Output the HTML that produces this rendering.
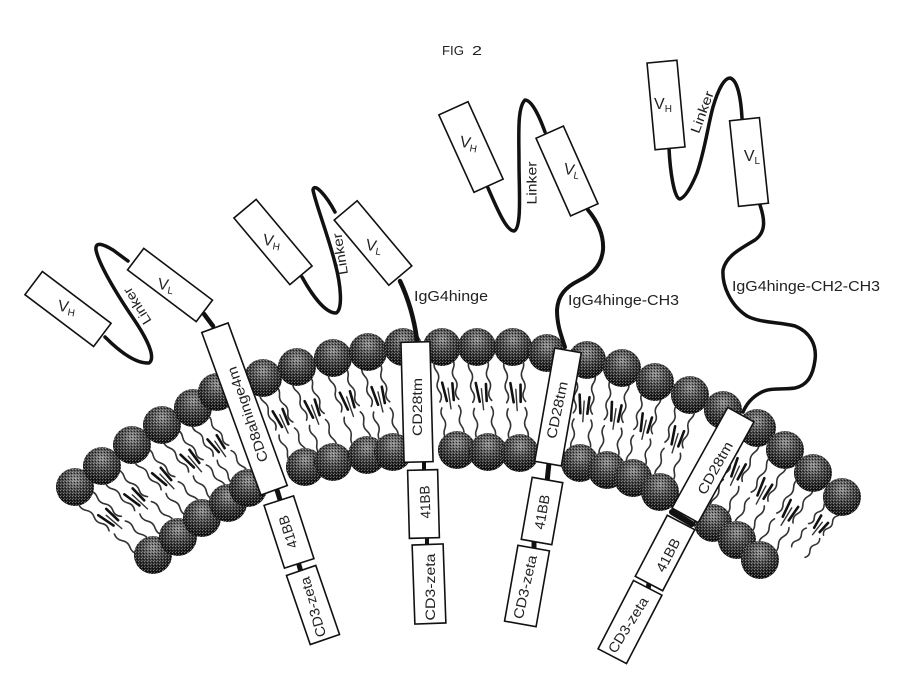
<!DOCTYPE html>
<html>
<head>
<meta charset="utf-8">
<style>
html,body{margin:0;padding:0;background:#fff;width:913px;height:692px;overflow:hidden}
svg{display:block}
text{font-family:"Liberation Sans",sans-serif;fill:#222}
.b{fill:#fff;stroke:#111;stroke-width:1.6}
.l{fill:none;stroke:#111;stroke-linecap:round;stroke-linejoin:round}
</style>
</head>
<body>
<svg width="913" height="692" viewBox="0 0 913 692" xmlns="http://www.w3.org/2000/svg">
<defs>
<radialGradient id="g" cx="50%" cy="30%" r="72%">
<stop offset="0" stop-color="#8e8e8e"/>
<stop offset=".4" stop-color="#4a4a4a"/>
<stop offset=".75" stop-color="#222"/>
<stop offset="1" stop-color="#0c0c0c"/>
</radialGradient>
<pattern id="d" width="3" height="3" patternUnits="userSpaceOnUse">
<rect x="0" y="0" width="1" height="1" fill="#fff" opacity=".4"/>
<rect x="2" y="1" width="1" height="1" fill="#000" opacity=".7"/>
<rect x="1" y="2" width="1" height="1" fill="#fff" opacity=".25"/>
</pattern>
<g id="h"><circle r="19" fill="url(#g)"/><circle r="19" fill="url(#d)"/></g>
<g id="t" fill="none" stroke="#333" stroke-linecap="round">
<path stroke-width="1.6" d="M-9 12q-3 5 0 10t0 10t0 10t-1 10M8 12q3 5 0 10t0 10t0 10t1 10"/>
<path stroke-width="1.6" d="M-9 88q-3-5 0-10t0-10t0-10M8 88q3-5 0-10t0-10t0-10"/>
<path stroke="#111" stroke-width="2.6" d="M-5 34l2 18M5 36l-1 16"/>
<path stroke="#333" stroke-width="1.4" d="M0 40l0 20"/>
</g>
</defs>

<!-- tails -->
<use href="#t" transform="translate(75 489) rotate(-49.8) scale(1 1.02)"/>
<use href="#t" transform="translate(102 467) rotate(-47.4) scale(1 1.03)"/>
<use href="#t" transform="translate(132 445) rotate(-43.8) scale(1 1.01)"/>
<use href="#t" transform="translate(162 425) rotate(-40.2) scale(1 1.02)"/>
<use href="#t" transform="translate(193 410) rotate(-35) scale(1 .95)"/>
<use href="#t" transform="translate(263 378) rotate(-24.5) scale(1 1.01)"/>
<use href="#t" transform="translate(297 367) rotate(-20.8) scale(1 1.02)"/>
<use href="#t" transform="translate(333 358) rotate(-19.3) scale(1 1.03)"/>
<use href="#t" transform="translate(368 352) rotate(-14) scale(1 1.03)"/>
<use href="#t" transform="translate(442 347) rotate(-8.3) scale(1 1.04)"/>
<use href="#t" transform="translate(477 347) rotate(-6) scale(1 1.05)"/>
<use href="#t" transform="translate(513 347) rotate(-3.8) scale(1 1.06)"/>
<use href="#t" transform="translate(587 360) rotate(3.9) scale(1 1.03)"/>
<use href="#t" transform="translate(622 368) rotate(8.4) scale(1 1.03)"/>
<use href="#t" transform="translate(655 382) rotate(12.9) scale(1 .98)"/>
<use href="#t" transform="translate(690 395) rotate(17.2) scale(1 1.01)"/>
<use href="#t" transform="translate(757 428) rotate(24.8) scale(1 1.05)"/>
<use href="#t" transform="translate(785 450) rotate(28) scale(1 1.02)"/>
<use href="#t" transform="translate(813 473) rotate(31.4) scale(1 1.02)"/>
<use href="#t" transform="translate(842 497) rotate(38) scale(1 .8)"/>

<!-- upper heads -->
<use href="#h" x="75" y="487"/>
<use href="#h" x="102" y="466"/>
<use href="#h" x="132" y="445"/>
<use href="#h" x="162" y="425"/>
<use href="#h" x="193" y="408"/>
<use href="#h" x="217" y="392"/>
<use href="#h" x="263" y="378"/>
<use href="#h" x="297" y="367"/>
<use href="#h" x="333" y="358"/>
<use href="#h" x="368" y="352"/>
<use href="#h" x="403" y="347"/>
<use href="#h" x="442" y="347"/>
<use href="#h" x="477" y="347"/>
<use href="#h" x="513" y="347"/>
<use href="#h" x="547" y="353"/>
<use href="#h" x="587" y="360"/>
<use href="#h" x="622" y="368"/>
<use href="#h" x="655" y="382"/>
<use href="#h" x="690" y="395"/>
<use href="#h" x="723" y="410"/>
<use href="#h" x="757" y="428"/>
<use href="#h" x="785" y="450"/>
<use href="#h" x="813" y="473"/>
<use href="#h" x="842" y="497"/>

<!-- lower heads -->
<use href="#h" x="153" y="555"/>
<use href="#h" x="178" y="537"/>
<use href="#h" x="202" y="518"/>
<use href="#h" x="228" y="503"/>
<use href="#h" x="248" y="488"/>
<use href="#h" x="305" y="467"/>
<use href="#h" x="333" y="462"/>
<use href="#h" x="367" y="455"/>
<use href="#h" x="393" y="452"/>
<use href="#h" x="457" y="450"/>
<use href="#h" x="488" y="452"/>
<use href="#h" x="520" y="453"/>
<use href="#h" x="580" y="463"/>
<use href="#h" x="607" y="470"/>
<use href="#h" x="633" y="478"/>
<use href="#h" x="660" y="492"/>
<use href="#h" x="713" y="523"/>
<use href="#h" x="737" y="540"/>
<use href="#h" x="760" y="560"/>

<!-- linkers and hinges -->
<path class="l" stroke-width="3.5" d="M105 337C118 350 135 364 149 363C156 358 148 340 133 318C118 296 99 265 96 250C95 241 103 244 113 250C120 255 125 259 128 261"/>
<path class="l" stroke-width="4.5" d="M204 314L213 326"/>
<path class="l" stroke-width="3.5" d="M302 277C312 295 325 313 336 313C343 310 341 285 335 263C328 235 316 205 313 190C314 182 326 195 335 212"/>
<path class="l" stroke-width="4.5" d="M400 281C408 298 414 318 417 340"/>
<path class="l" stroke-width="3.5" d="M488 188C496 206 506 231 514 231C522 228 519 190 519 163C519 135 517 108 525 100C532 100 540 118 545 132"/>
<path class="l" stroke-width="4" d="M588 210C598 222 604 235 603 250C601 268 590 275 578 281C566 287 558 295 557 310C557 325 561 335 565 347"/>
<path class="l" stroke-width="3.5" d="M669 148C670 170 674 199 680 199C686 197 692 185 697 173C705 150 708 125 713 107C718 90 724 78 730 78C738 80 741 100 742 118"/>
<path class="l" stroke-width="3.5" d="M760 205C765 220 766 232 755 240C740 249 726 256 723 270C722 285 730 305 747 316C760 323 780 322 795 326C810 332 817 345 815 360C813 375 808 385 795 388C783 390 770 387 760 393C751 398 746 405 743 412"/>

<!-- short connectors -->
<path class="l" stroke-width="5" d="M277 490L281 503"/>
<path class="l" stroke-width="5" d="M299 565L301 572"/>
<path class="l" stroke-width="4" d="M424 460V472"/>
<path class="l" stroke-width="4" d="M427 538V545"/>
<path class="l" stroke-width="5" d="M549 463L547 482"/>
<path class="l" stroke-width="5" d="M534 542L534 550"/>
<path class="l" stroke-width="6" d="M672 512L692 524"/>
<path class="l" stroke-width="5" d="M649 583L648 590"/>

<!-- antibody rectangles -->
<rect class="b" x="-14.5" y="-43" width="29" height="86" transform="translate(68 309) rotate(-53)"/>
<rect class="b" x="-13.5" y="-43" width="27" height="86" transform="translate(170 285) rotate(-53)"/>
<rect class="b" x="-14.5" y="-43.5" width="29" height="87" transform="translate(273 242) rotate(-40)"/>
<rect class="b" x="-15" y="-42.5" width="30" height="85" transform="translate(373 243) rotate(-40)"/>
<rect class="b" x="-16" y="-42.5" width="32" height="85" transform="translate(471 147) rotate(-24.4)"/>
<rect class="b" x="-15" y="-42.5" width="30" height="85" transform="translate(567 171) rotate(-24)"/>
<rect class="b" x="-15" y="-43.5" width="30" height="87" transform="translate(666 105) rotate(-5.3)"/>
<rect class="b" x="-15" y="-43" width="30" height="86" transform="translate(749 162) rotate(-6)"/>

<!-- transmembrane boxes -->
<rect class="b" x="-14" y="-86.5" width="28" height="173" transform="translate(244.5 409) rotate(-20)"/>
<rect class="b" x="-14.5" y="-60" width="29" height="120" transform="translate(417 402) rotate(-1.5)"/>
<rect class="b" x="-13.5" y="-57.5" width="27" height="115" transform="translate(558 407) rotate(10)"/>
<rect class="b" x="-15" y="-57.5" width="30" height="115" transform="translate(713 465) rotate(29)"/>

<!-- 41BB boxes -->
<rect class="b" x="-15.5" y="-33" width="31" height="66" transform="translate(289 532) rotate(-18)"/>
<rect class="b" x="-15" y="-34" width="30" height="68" transform="translate(423.5 504) rotate(-1.5)"/>
<rect class="b" x="-15.5" y="-31.5" width="31" height="63" transform="translate(542 511) rotate(10)"/>
<rect class="b" x="-15.5" y="-34.5" width="31" height="69" transform="translate(665 553) rotate(27.7)"/>

<!-- CD3-zeta boxes -->
<rect class="b" x="-15.5" y="-36.5" width="31" height="73" transform="translate(313 605) rotate(-19)"/>
<rect class="b" x="-15.5" y="-39.5" width="31" height="79" transform="translate(429 584) rotate(-2)"/>
<rect class="b" x="-16" y="-38.5" width="32" height="77" transform="translate(527 586) rotate(10)"/>
<rect class="b" x="-16" y="-38.5" width="32" height="77" transform="translate(630 622) rotate(27.4)"/>

<!-- labels -->
<text x="442" y="55" font-size="13" textLength="22" lengthAdjust="spacingAndGlyphs">FIG</text>
<text x="472" y="55" font-size="13" textLength="10" lengthAdjust="spacingAndGlyphs">2</text>
<text x="414" y="301" font-size="14.5" textLength="74" lengthAdjust="spacingAndGlyphs">IgG4hinge</text>
<text x="568" y="305" font-size="14.5" textLength="111" lengthAdjust="spacingAndGlyphs">IgG4hinge-CH3</text>
<text x="732" y="291" font-size="14.5" textLength="148" lengthAdjust="spacingAndGlyphs">IgG4hinge-CH2-CH3</text>

<g font-size="16" text-anchor="middle">
<text transform="translate(66 312) rotate(10)">V<tspan font-size="10" dy="3">H</tspan></text>
<text transform="translate(165 290) rotate(10)">V<tspan font-size="10" dy="3">L</tspan></text>
<text transform="translate(271 246) rotate(10)">V<tspan font-size="10" dy="3">H</tspan></text>
<text transform="translate(373 251) rotate(10)">V<tspan font-size="10" dy="3">L</tspan></text>
<text transform="translate(468 148) rotate(10)">V<tspan font-size="10" dy="3">H</tspan></text>
<text transform="translate(571 175) rotate(10)">V<tspan font-size="10" dy="3">L</tspan></text>
<text transform="translate(663 109)">V<tspan font-size="10" dy="3">H</tspan></text>
<text transform="translate(752 161)">V<tspan font-size="10" dy="3">L</tspan></text>
</g>

<g font-size="13.5" text-anchor="middle">
<text transform="translate(137 306) rotate(-122)" dy=".35em" textLength="41" lengthAdjust="spacingAndGlyphs">Linker</text>
<text transform="translate(340 254) rotate(-99)" dy=".35em" textLength="42" lengthAdjust="spacingAndGlyphs">Linker</text>
<text transform="translate(532 183) rotate(-90)" dy=".35em" textLength="43" lengthAdjust="spacingAndGlyphs">Linker</text>
<text transform="translate(702 112) rotate(-70)" dy=".35em" textLength="44" lengthAdjust="spacingAndGlyphs">Linker</text>
</g>

<g font-size="14" text-anchor="middle">
<text transform="translate(247.5 414.5) rotate(-109)" dy=".35em" textLength="100" lengthAdjust="spacingAndGlyphs">CD8ahinge4m</text>
<text transform="translate(417 407) rotate(-90)" dy=".35em" textLength="58" lengthAdjust="spacingAndGlyphs">CD28tm</text>
<text transform="translate(557 410) rotate(-78)" dy=".35em" textLength="58" lengthAdjust="spacingAndGlyphs">CD28tm</text>
<text transform="translate(715 468) rotate(-61)" dy=".35em" textLength="58" lengthAdjust="spacingAndGlyphs">CD28tm</text>
<text transform="translate(288 532) rotate(-108)" dy=".35em" textLength="34" lengthAdjust="spacingAndGlyphs">41BB</text>
<text transform="translate(425 502) rotate(-92)" dy=".35em" textLength="33" lengthAdjust="spacingAndGlyphs">41BB</text>
<text transform="translate(542 512) rotate(-80)" dy=".35em" textLength="35" lengthAdjust="spacingAndGlyphs">41BB</text>
<text transform="translate(668 555) rotate(-62)" dy=".35em" textLength="36" lengthAdjust="spacingAndGlyphs">41BB</text>
<text transform="translate(313 607) rotate(-106)" dy=".35em" textLength="62" lengthAdjust="spacingAndGlyphs">CD3-zeta</text>
<text transform="translate(430 587) rotate(-90)" dy=".35em" textLength="67" lengthAdjust="spacingAndGlyphs">CD3-zeta</text>
<text transform="translate(525 587) rotate(-77)" dy=".35em" textLength="65" lengthAdjust="spacingAndGlyphs">CD3-zeta</text>
<text transform="translate(628 625) rotate(-58)" dy=".35em" textLength="63" lengthAdjust="spacingAndGlyphs">CD3-zeta</text>
</g>
</svg>
</body>
</html>
